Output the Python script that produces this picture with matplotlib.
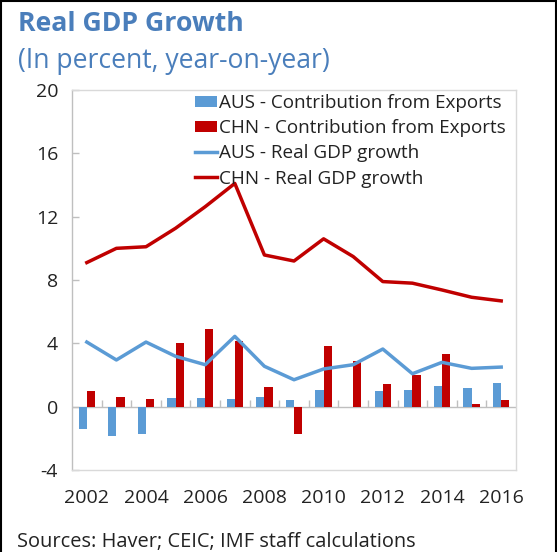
import matplotlib
matplotlib.use("Agg")
import matplotlib.pyplot as plt
import numpy as np
from matplotlib.lines import Line2D

years = [2002, 2003, 2004, 2005, 2006, 2007, 2008, 2009, 2010, 2011, 2012, 2013, 2014, 2015, 2016]
aus_exports = [-1.4, -1.85, -1.75, 0.55, 0.55, 0.5, 0.6, 0.4, 1.03, 0.0, 0.99, 1.07, 1.28, 1.2, 1.5]
chn_exports = [0.97, 0.59, 0.48, 4.0, 4.93, 4.17, 1.22, -1.7, 3.81, 2.9, 1.45, 2.02, 3.3, 0.17, 0.4]
aus_gdp = [4.08, 2.95, 4.08, 3.18, 2.65, 4.44, 2.55, 1.7, 2.38, 2.65, 3.64, 2.08, 2.8, 2.42, 2.5]
chn_gdp = [9.1, 10.0, 10.1, 11.27, 12.63, 14.1, 9.58, 9.2, 10.6, 9.48, 7.9, 7.8, 7.37, 6.91, 6.68]
xtick_labels = ["2002", "", "2004", "", "2006", "", "2008", "", "2010", "", "2012", "", "2014", "", "2016"]
yticks = [-4, 0, 4, 8, 12, 16, 20]

FONT = ["Open Sans", "DejaVu Sans"]
plt.rcParams["font.family"] = FONT

BLUE = "#5b9bd5"
RED = "#c00000"
TITLE = "#4a7ebb"
GRID = "#d9d9d9"

fig = plt.figure(figsize=(5.57, 5.52), dpi=100)
ax = fig.add_axes([72/557, 1-470/552, (516-72)/557, (470-90)/552])

x = np.arange(len(years))
w = 0.28
b1 = ax.bar(x - w/2, aus_exports, width=w, color=BLUE, zorder=2, label="AUS - Contribution from Exports")
b2 = ax.bar(x + w/2, chn_exports, width=w, color=RED, zorder=2, label="CHN - Contribution from Exports")
l1, = ax.plot(x, aus_gdp, color=BLUE, lw=2.5, zorder=3, label="AUS - Real GDP growth")
l2, = ax.plot(x, chn_gdp, color=RED, lw=2.5, zorder=3, label="CHN - Real GDP growth")

ax.axhline(0, color="#bfbfbf", lw=1.0, zorder=1)
ax.vlines(np.arange(len(years) - 1) + 0.5, 0, 0.44, color="#bfbfbf", lw=1.0, zorder=1)

ax.set_xlim(-0.5, len(years) - 0.5)
ax.set_ylim(-4, 20)
ax.set_yticks(yticks)
ax.set_yticklabels([str(v) for v in yticks])
ax.set_xticks(x)
ax.set_xticklabels(xtick_labels)
ax.tick_params(axis="x", length=0, pad=14, labelsize=14, colors="#222222")
ax.tick_params(axis="y", direction="in", length=5, width=1, color="#bfbfbf", pad=10, labelsize=14, labelcolor="#222222")
for s in ax.spines.values():
    s.set_color(GRID)
    s.set_linewidth(1.0)
ax.spines["left"].set_color("#bfbfbf")

leg = ax.legend(handles=[b1, b2, l1, l2], loc="upper left", bbox_to_anchor=(195/557, 1-94/552),
                bbox_transform=fig.transFigure,
                frameon=False, fontsize=13.6, handlelength=1.15, handleheight=0.55, handletextpad=0.12,
                labelspacing=0.38, borderpad=0, borderaxespad=0)
for t in leg.get_texts():
    t.set_color("#222222")

fig.text(17.8/557, 1-30.7/552, "Real GDP Growth", fontsize=19.2, fontweight="bold", color=TITLE, va="baseline", ha="left")
fig.text(17.8/557, 1-68.3/552, "(In percent, year-on-year)", fontsize=19.1, color=TITLE, va="baseline", ha="left")
fig.text(17/557, 1-547/552, "Sources: Haver; CEIC; IMF staff calculations", fontsize=14.4, color="#222222", va="baseline", ha="left")

fig.add_artist(Line2D([0.001, 0.001], [0, 0.999], transform=fig.transFigure, color="black", lw=1.5))
fig.add_artist(Line2D([0.001, 0.998], [0.999, 0.999], transform=fig.transFigure, color="black", lw=1.5))
fig.add_artist(Line2D([0.998, 0.998], [0, 0.999], transform=fig.transFigure, color="black", lw=1.5))

fig.savefig("out.png", dpi=100)
